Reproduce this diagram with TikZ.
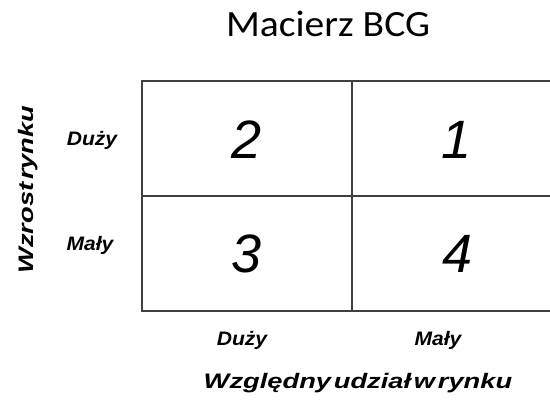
\documentclass[tikz,border=0pt]{standalone}
\usepackage{fontspec}
\usepackage{graphicx}
\setmainfont{Liberation Sans}
\newfontfamily\titlefont{Carlito}
\newcommand{\lblwide}[1]{\scalebox{1.08}[1]{#1}}
\newcommand{\ttlwide}[1]{\scalebox{1.3}[1]{#1}}
\begin{document}
\begin{tikzpicture}[x=1pt,y=-1pt,
  gridline/.style={draw=black!75,line width=1.4pt},
  numlbl/.style={anchor=base,inner sep=0pt,font=\fontsize{54}{54}\selectfont\itshape},
  axlbl/.style={anchor=base,inner sep=0pt,font=\fontsize{19.5}{19.5}\selectfont\bfseries\itshape},
  axtitle/.style={anchor=base,inner sep=0pt,font=\fontsize{21}{21}\selectfont\bfseries\itshape}]
\clip (0,0) rectangle (550,401);
\fill[white] (0,0) rectangle (550,401);
\node[anchor=base,inner sep=0pt,font=\titlefont\fontsize{37}{37}\selectfont] (title) at (328,37) {\scalebox{1.07}[1]{Macierz BCG}};
\coordinate (tl) at (142,81);
\coordinate (br) at (562,311);
\coordinate (tm) at (352,81);
\coordinate (bm) at (352,311);
\coordinate (ml) at (142,196);
\coordinate (mr) at (562,196);
\draw[gridline] (tl) rectangle (br);
\draw[gridline] (tm) -- (bm);
\draw[gridline] (ml) -- (mr);
\node[numlbl] (n2) at (247,159) {2};
\node[numlbl] (n1) at (457,159) {1};
\node[numlbl] (n3) at (247,273) {3};
\node[numlbl] (n4) at (458,273) {4};
\node[axlbl] (ld) at (92,146) {\lblwide{Duży}};
\node[axlbl] (lm) at (90,251) {\lblwide{Mały}};
\node[axlbl] (bd) at (242,346) {\lblwide{Duży}};
\node[axlbl] (bmy) at (438,346) {\lblwide{Mały}};
\node[axtitle] (xt) at (358,389) {\ttlwide{Względny\hspace{0.1em}udział\hspace{0.1em}w\hspace{0.1em}rynku}};
\node[axtitle,rotate=90] (yt) at (34,189.5) {\ttlwide{Wzrost\hspace{0.1em}rynku}};
\end{tikzpicture}
\end{document}
